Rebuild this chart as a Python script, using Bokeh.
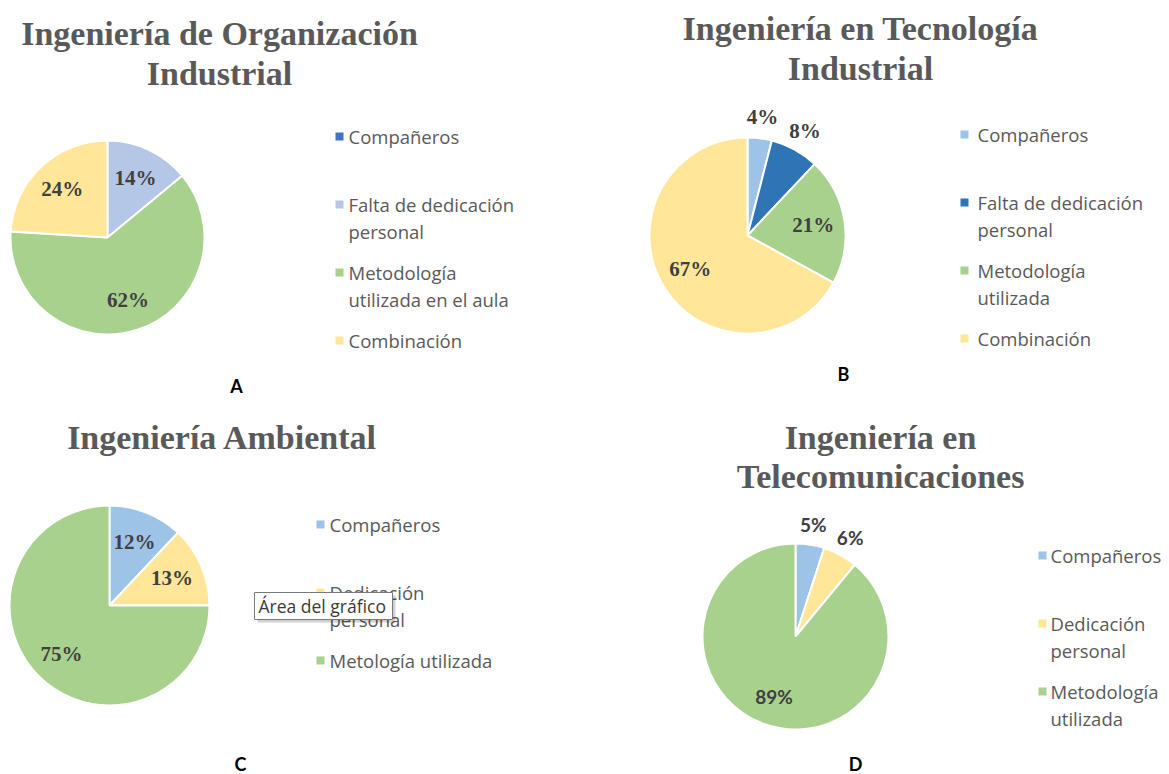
import math
import numpy as np
from bokeh.plotting import figure
from bokeh.models import Range1d, ColumnDataSource
from bokeh.core.properties import value
from bokeh.embed import file_html
from bokeh.resources import INLINE

# ---------------- data ----------------
titles_A = ["Ingeniería de Organización", "Industrial"]
cats_A = ["Compañeros", "Falta de dedicación\npersonal", "Metodología\nutilizada en el aula", "Combinación"]
vals_A = [0, 14, 62, 24]
colors_A = ["#4472C4", "#B4C7E7", "#A9D18E", "#FFE699"]

titles_B = ["Ingeniería en Tecnología", "Industrial"]
cats_B = ["Compañeros", "Falta de dedicación\npersonal", "Metodología\nutilizada", "Combinación"]
vals_B = [4, 8, 21, 67]
colors_B = ["#9DC3E6", "#2E75B6", "#A9D18E", "#FFE699"]

titles_C = ["Ingeniería Ambiental"]
cats_C = ["Compañeros", "Dedicación\npersonal", "Metología utilizada"]
vals_C = [12, 13, 75]
colors_C = ["#9DC3E6", "#FFE699", "#A9D18E"]

titles_D = ["Ingeniería en", "Telecomunicaciones"]
cats_D = ["Compañeros", "Dedicación\npersonal", "Metodología\nutilizada"]
vals_D = [5, 6, 89]
colors_D = ["#9DC3E6", "#FFE699", "#A9D18E"]

letters = ["A", "B", "C", "D"]
tooltip_text = "Área del gráfico"

# ---------------- layout (picture pixel coords) ----------------
layout = [
    dict(cx=107, cy=237, r=97, tcx=219, ty=[33, 73], sqx=339, tx=348, ly0=136, lx=236, lyl=385, sans=False),
    dict(cx=747, cy=235, r=98, tcx=860, ty=[28, 68], sqx=964, tx=977, ly0=134, lx=843, lyl=373, sans=False),
    dict(cx=109, cy=605, r=100, tcx=222, ty=[437], sqx=320, tx=329, ly0=524, lx=240, lyl=763, sans=False),
    dict(cx=795, cy=636, r=93, tcx=880, ty=[437, 476], sqx=1042, tx=1050, ly0=555, lx=855, lyl=763, sans=True),
]
panels = [
    (titles_A, cats_A, vals_A, colors_A),
    (titles_B, cats_B, vals_B, colors_B),
    (titles_C, cats_C, vals_C, colors_C),
    (titles_D, cats_D, vals_D, colors_D),
]

W, H = 1169, 774
p = figure(width=W, height=H, x_range=Range1d(0, W), y_range=Range1d(-H, 0),
           output_backend="svg", toolbar_location=None, min_border=0,
           x_axis_type=None, y_axis_type=None)
p.grid.visible = False
p.outline_line_color = None
p.background_fill_color = "white"
p.border_fill_color = "white"

LEG_STEP = 68
LINE_STEP = 27

for (titles, cats, vals, cols), L, letter in zip(panels, layout, letters):
    v = np.array(vals, dtype=float)
    fr = v / v.sum()
    cum = np.cumsum(fr)
    start = np.pi / 2 - 2 * np.pi * cum
    end = np.pi / 2 - 2 * np.pi * (cum - fr)
    keep = v > 0
    src = ColumnDataSource(dict(start=start[keep], end=end[keep],
                                color=[c for c, k in zip(cols, keep) if k]))
    p.wedge(x=L["cx"], y=-L["cy"], radius=L["r"], start_angle="start", end_angle="end",
            fill_color="color", line_color="white", line_width=2, source=src)

    # data labels
    mid = (start + end) / 2
    rf = np.where(fr >= 0.1, 0.68, 1.22)
    lx = L["cx"] + L["r"] * rf * np.cos(mid)
    ly = -L["cy"] + L["r"] * rf * np.sin(mid)
    lsrc = ColumnDataSource(dict(x=lx[keep], y=ly[keep],
                                 t=[f"{int(x)}%" for x, k in zip(vals, keep) if k]))
    if L["sans"]:
        p.text(x="x", y="y", text="t", source=lsrc, text_font=value("Lato"), text_font_style="bold",
               text_font_size="19px", text_color="#404040", text_align="center", text_baseline="middle")
    else:
        p.text(x="x", y="y", text="t", source=lsrc, text_font=value("Liberation Serif"),
               text_font_style="bold", text_font_size="21px", text_color="#404040",
               text_align="center", text_baseline="middle")

    # title
    tsrc = ColumnDataSource(dict(x=[L["tcx"]] * len(titles), y=[-t for t in L["ty"]], t=titles))
    p.text(x="x", y="y", text="t", source=tsrc, text_font=value("Liberation Serif"),
           text_font_style="bold", text_font_size="34px", text_color="#595959",
           text_align="center", text_baseline="middle")

    # legend
    sq_y, txt_x, txt_y, txt = [], [], [], []
    for i, c in enumerate(cats):
        y0 = L["ly0"] + i * LEG_STEP
        sq_y.append(-y0)
        for j, line in enumerate(c.split("\n")):
            txt_x.append(L["tx"])
            txt_y.append(-(y0 + j * LINE_STEP))
            txt.append(line)
    p.scatter(x=[L["sqx"]] * len(cats), y=sq_y, marker="square", size=8, color=cols, line_color=None)
    p.text(x=txt_x, y=txt_y, text=txt, text_font=value("Open Sans"), text_font_size="18.5px",
           text_color="#595959", text_align="left", text_baseline="middle")

    # panel letter
    p.text(x=[L["lx"]], y=[-L["lyl"]], text=[letter], text_font=value("Lato"), text_font_style="bold",
           text_font_size="18px", text_color="#000000", text_align="center", text_baseline="middle")

# tooltip box from the screenshot ("Área del gráfico")
bx0, bx1, by0, by1 = 254, 392, 592, 619
p.quad(left=bx0 + 3, right=bx1 + 3, top=-(by0 + 3), bottom=-(by1 + 3),
       fill_color="#000000", fill_alpha=0.18, line_color=None)
p.quad(left=bx0, right=bx1, top=-by0, bottom=-by1, fill_color="white", line_color="#7a7a7a", line_width=1)
p.text(x=[bx0 + 4], y=[-(by0 + by1) / 2], text=[tooltip_text], text_font=value("Open Sans"),
       text_font_size="17.5px", text_color="#3a3a3a", text_align="left", text_baseline="middle")

open("out.html", "w").write(file_html(p, INLINE))
